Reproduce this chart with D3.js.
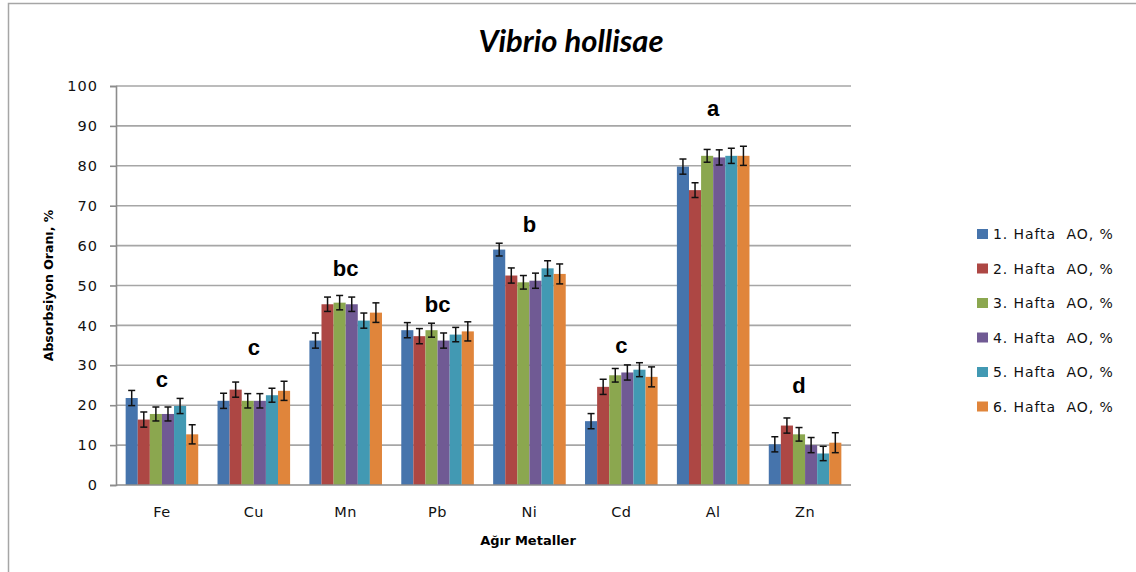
<!DOCTYPE html>
<html>
<head>
<meta charset="utf-8">
<script src="https://cdn.jsdelivr.net/npm/d3@7"></script>
<style>
  body { margin: 0; background: #fff; }
  svg { display: block; }
  .tick text { font-family: "DejaVu Sans", Verdana, sans-serif; }
</style>
</head>
<body>
<div id="chart"></div>
<script>
// metals on the x axis
const metals = ['Fe', 'Cu', 'Mn', 'Pb', 'Ni', 'Cd', 'Al', 'Zn'];
const seriesNames = ['1. Hafta  AO, %', '2. Hafta  AO, %', '3. Hafta  AO, %',
  '4. Hafta  AO, %', '5. Hafta  AO, %', '6. Hafta  AO, %'];
const seriesColors = ['#4674AC', '#AD4744', '#8BA74F', '#705A94', '#4299B3', '#E0853B'];

// absorption ratio, % (one array per week)
const week1 = [21.8, 21.1, 36.2, 38.8, 59.0, 16.0, 79.8, 10.2];
const week2 = [16.4, 23.9, 45.3, 37.3, 52.5, 24.6, 73.9, 14.9];
const week3 = [17.8, 21.1, 45.7, 38.8, 50.8, 27.5, 82.5, 12.7];
const week4 = [17.8, 21.1, 45.3, 36.2, 51.2, 28.2, 82.1, 10.0];
const week5 = [19.8, 22.5, 41.2, 37.7, 54.3, 28.9, 82.5, 7.9];
const week6 = [12.7, 23.6, 43.2, 38.5, 52.9, 27.1, 82.5, 10.6];

// error bar half-lengths
const err1 = [1.9, 1.9, 1.9, 1.9, 1.6, 1.9, 1.9, 1.9];
const err2 = [1.9, 1.9, 1.8, 1.9, 1.9, 1.9, 1.85, 1.9];
const err3 = [1.75, 1.8, 1.8, 1.75, 1.7, 1.7, 1.6, 1.7];
const err4 = [1.75, 1.8, 1.8, 1.9, 1.9, 1.9, 1.9, 1.9];
const err5 = [1.9, 1.75, 1.9, 1.8, 1.9, 1.75, 1.9, 1.8];
const err6 = [2.4, 2.4, 2.45, 2.4, 2.5, 2.5, 2.4, 2.5];

// significance letters and the value at which their baseline sits
const groupLetters = ['c', 'c', 'bc', 'bc', 'b', 'c', 'a', 'd'];
const letterLevels = [24.5, 32.5, 52.5, 43.3, 63.3, 33, 92.5, 23];

const yTicks = [0, 10, 20, 30, 40, 50, 60, 70, 80, 90, 100];

const W = 1136, H = 572;
const margins = { left: 116, right: 285, top: 86, bottom: 87 };

const weeks = [week1, week2, week3, week4, week5, week6];
const errs = [err1, err2, err3, err4, err5, err6];

const svg = d3.select('#chart').append('svg')
  .attr('width', W)
  .attr('height', H);

// outer chart border (only top and left show in the frame)
svg.append('rect')
  .attr('x', 8.5).attr('y', 3.5)
  .attr('width', W + 20).attr('height', H + 20)
  .attr('fill', 'none')
  .attr('stroke', '#a6a6a6')
  .attr('stroke-width', 1.5);

const width = W - margins.left - margins.right;
const height = H - margins.top - margins.bottom;

const x0 = d3.scaleBand()
  .domain(metals)
  .range([0, width])
  .padding(0);

const gap = x0.bandwidth() * 0.105;
const x1 = d3.scaleBand()
  .domain(d3.range(seriesNames.length))
  .range([gap, x0.bandwidth() - gap])
  .padding(0);

const y = d3.scaleLinear()
  .domain([0, 100])
  .range([height, 0]);

const vis = svg.append('g')
  .attr('transform', 'translate(' + margins.left + ',' + margins.top + ')');

// gridlines
vis.append('g')
  .selectAll('line')
  .data(yTicks.slice(1))
  .enter()
  .append('line')
  .attr('x1', 0)
  .attr('x2', width)
  .attr('y1', d => y(d))
  .attr('y2', d => y(d))
  .attr('stroke', '#a6a6a6')
  .attr('stroke-width', 1.6);

// y axis
const yAxis = d3.axisLeft(y)
  .tickValues(yTicks)
  .tickSize(6)
  .tickPadding(12);

const yAxisG = vis.append('g').call(yAxis);
yAxisG.select('.domain').attr('stroke', '#8c8c8c').attr('stroke-width', 1.6);
yAxisG.selectAll('.tick line').attr('stroke', '#8c8c8c').attr('stroke-width', 1.6);
yAxisG.selectAll('.tick text')
  .attr('fill', '#111')
  .style('font-size', '14.5px')
  .style('letter-spacing', '1px');

// bars
const groups = vis.selectAll('.metal')
  .data(metals)
  .enter()
  .append('g')
  .attr('class', 'metal')
  .attr('transform', d => 'translate(' + x0(d) + ',0)');

const cells = groups.selectAll('.cell')
  .data((m, mi) => weeks.map((w, si) => ({ si: si, v: w[mi], e: errs[si][mi] })))
  .enter()
  .append('g')
  .attr('class', 'cell');

cells.append('rect')
  .attr('x', d => x1(d.si))
  .attr('y', d => y(d.v))
  .attr('width', x1.bandwidth())
  .attr('height', d => height - y(d.v))
  .attr('fill', d => seriesColors[d.si]);

// error bars
const capW = 3.5;
cells.append('line')
  .attr('x1', d => x1(d.si) + x1.bandwidth() / 2)
  .attr('x2', d => x1(d.si) + x1.bandwidth() / 2)
  .attr('y1', d => y(d.v + d.e))
  .attr('y2', d => y(d.v - d.e))
  .attr('stroke', '#111')
  .attr('stroke-width', 1.5);

[1, -1].forEach(function (sign) {
  cells.append('line')
    .attr('x1', d => x1(d.si) + x1.bandwidth() / 2 - capW)
    .attr('x2', d => x1(d.si) + x1.bandwidth() / 2 + capW)
    .attr('y1', d => y(d.v + sign * d.e))
    .attr('y2', d => y(d.v + sign * d.e))
    .attr('stroke', '#111')
    .attr('stroke-width', 1.5);
});

// x axis line
vis.append('line')
  .attr('x1', 0).attr('x2', width)
  .attr('y1', height).attr('y2', height)
  .attr('stroke', '#8c8c8c')
  .attr('stroke-width', 1.6);

// category labels
vis.append('g')
  .selectAll('text')
  .data(metals)
  .enter()
  .append('text')
  .attr('x', d => x0(d) + x0.bandwidth() / 2)
  .attr('y', height + 32)
  .attr('text-anchor', 'middle')
  .style('font-family', '"DejaVu Sans", Verdana, sans-serif')
  .style('font-size', '14.5px')
  .style('letter-spacing', '0.5px')
  .attr('fill', '#111')
  .text(d => d);

// letters above groups
vis.append('g')
  .selectAll('text')
  .data(metals)
  .enter()
  .append('text')
  .attr('x', (d, i) => x0(d) + x0.bandwidth() / 2 + (i === 7 ? -6 : 0))
  .attr('y', (d, i) => y(letterLevels[i]))
  .attr('text-anchor', 'middle')
  .style('font-family', '"Liberation Sans", Arial, sans-serif')
  .style('font-weight', 'bold')
  .style('font-size', '22px')
  .attr('fill', '#000')
  .text((d, i) => groupLetters[i]);

// title
svg.append('text')
  .attr('x', 571)
  .attr('y', 52)
  .attr('text-anchor', 'middle')
  .style('font-family', 'Lato, "Open Sans", sans-serif')
  .style('font-weight', 'bold')
  .style('font-style', 'italic')
  .style('font-size', '31px')
  .attr('fill', '#000')
  .text('Vibrio hollisae');

// axis titles
svg.append('text')
  .attr('transform', 'translate(53,' + (margins.top + height / 2) + ') rotate(-90)')
  .attr('text-anchor', 'middle')
  .style('font-family', '"DejaVu Sans", Verdana, sans-serif')
  .style('font-weight', 'bold')
  .style('font-size', '12.5px')
  .attr('fill', '#000')
  .text('Absorbsiyon Oranı, %');

svg.append('text')
  .attr('x', 528)
  .attr('y', 545)
  .attr('text-anchor', 'middle')
  .style('font-family', '"DejaVu Sans", Verdana, sans-serif')
  .style('font-weight', 'bold')
  .style('font-size', '13px')
  .attr('fill', '#000')
  .text('Ağır Metaller');

// legend
const legend = svg.append('g')
  .attr('transform', 'translate(977,229)');

seriesNames.forEach(function (name, i) {
  legend.append('rect')
    .attr('x', 0)
    .attr('y', i * 34.5)
    .attr('width', 11)
    .attr('height', 10)
    .attr('fill', seriesColors[i]);
  legend.append('text')
    .attr('x', 16)
    .attr('y', i * 34.5 + 10)
    .style('font-family', '"DejaVu Sans", Verdana, sans-serif')
    .style('font-size', '14px')
    .style('letter-spacing', '0.9px')
    .style('white-space', 'pre')
    .attr('fill', '#111')
    .text(name);
});
</script>
</body>
</html>
